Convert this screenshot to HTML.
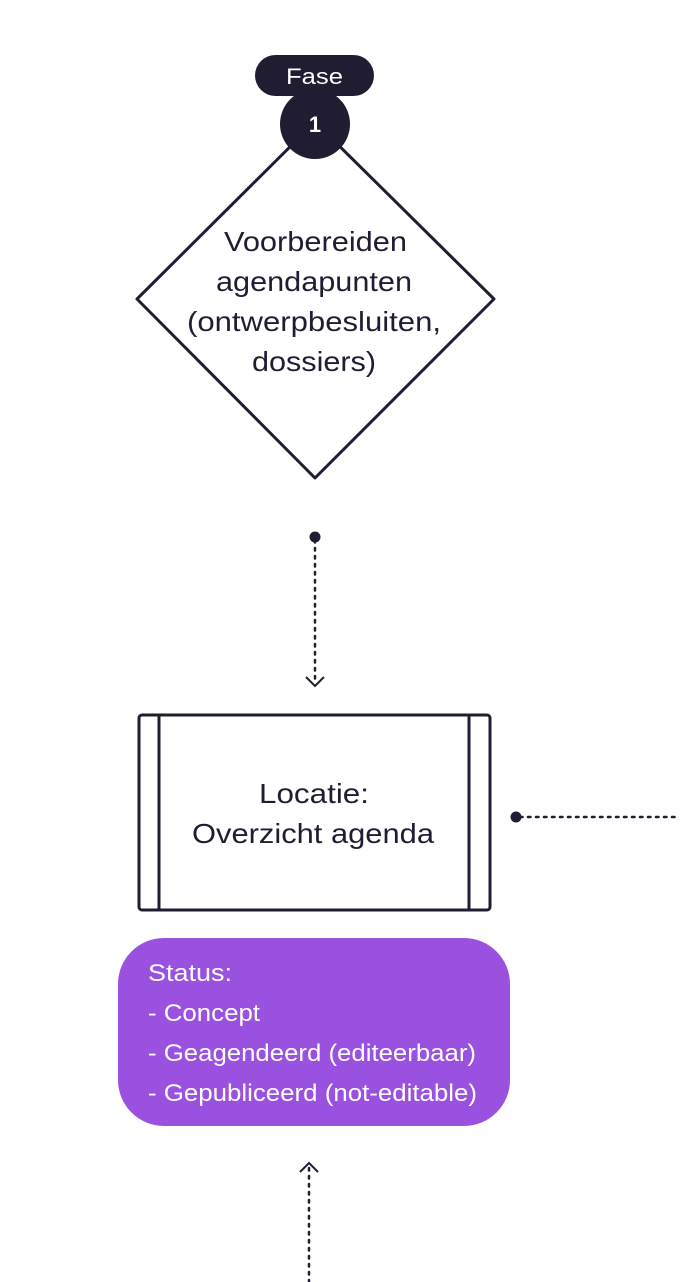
<!DOCTYPE html>
<html><head><meta charset="utf-8"><style>
html,body{margin:0;padding:0;background:#fff;width:680px;height:1282px;overflow:hidden}
svg{display:block}
</style></head><body>
<svg width="680" height="1282" viewBox="0 0 680 1282" xmlns="http://www.w3.org/2000/svg" font-family="'Liberation Sans', Arial, sans-serif">
<polygon points="315,122 494,299 315,478 137,299" fill="#fff" stroke="#201d33" stroke-width="3" stroke-linejoin="round"/>
<rect x="255" y="55" width="119" height="41" rx="20.5" fill="#201d33"/>
<text x="286" y="84" font-size="22" fill="#fff" textLength="57" lengthAdjust="spacingAndGlyphs">Fase</text>
<circle cx="315" cy="124" r="35" fill="#201d33"/>
<text x="315" y="132" font-size="22" font-weight="bold" fill="#fff" text-anchor="middle">1</text>
<g font-size="28" fill="#201d33">
<text x="224" y="251" textLength="183" lengthAdjust="spacingAndGlyphs">Voorbereiden</text>
<text x="216" y="291" textLength="196" lengthAdjust="spacingAndGlyphs">agendapunten</text>
<text x="187" y="331" textLength="254" lengthAdjust="spacingAndGlyphs">(ontwerpbesluiten,</text>
<text x="252" y="371" textLength="124" lengthAdjust="spacingAndGlyphs">dossiers)</text>
</g>
<circle cx="315" cy="537" r="5.5" fill="#201d33"/>
<line x1="315" y1="540" x2="315" y2="683" stroke="#201d33" stroke-width="2.5" stroke-dasharray="2.5 5.5" stroke-linecap="round"/>
<polyline points="306,677 315,686 324,677" fill="none" stroke="#201d33" stroke-width="2"/>
<rect x="139" y="715" width="351" height="195" rx="3" fill="#fff" stroke="#201d33" stroke-width="3"/>
<line x1="159" y1="715" x2="159" y2="910" stroke="#201d33" stroke-width="3"/>
<line x1="469" y1="715" x2="469" y2="910" stroke="#201d33" stroke-width="3"/>
<g font-size="28" fill="#201d33">
<text x="259" y="803" textLength="110" lengthAdjust="spacingAndGlyphs">Locatie:</text>
<text x="192" y="843" textLength="242" lengthAdjust="spacingAndGlyphs">Overzicht agenda</text>
</g>
<circle cx="516" cy="817" r="5.5" fill="#201d33"/>
<line x1="520" y1="817" x2="680" y2="817" stroke="#201d33" stroke-width="2.5" stroke-dasharray="2.5 5.5" stroke-linecap="round"/>
<rect x="118" y="938" width="392" height="188" rx="46" fill="#9b51e0"/>
<g font-size="24" fill="#fff">
<text x="148" y="981" textLength="84" lengthAdjust="spacingAndGlyphs">Status:</text>
<text x="148" y="1021" textLength="112" lengthAdjust="spacingAndGlyphs">- Concept</text>
<text x="148" y="1061" textLength="328" lengthAdjust="spacingAndGlyphs">- Geagendeerd (editeerbaar)</text>
<text x="148" y="1101" textLength="329" lengthAdjust="spacingAndGlyphs">- Gepubliceerd (not-editable)</text>
</g>
<polyline points="300,1172 309,1163 318,1172" fill="none" stroke="#201d33" stroke-width="2"/>
<line x1="309" y1="1168" x2="309" y2="1282" stroke="#201d33" stroke-width="2.5" stroke-dasharray="2.5 5.5" stroke-linecap="round"/>
</svg>
</body></html>
